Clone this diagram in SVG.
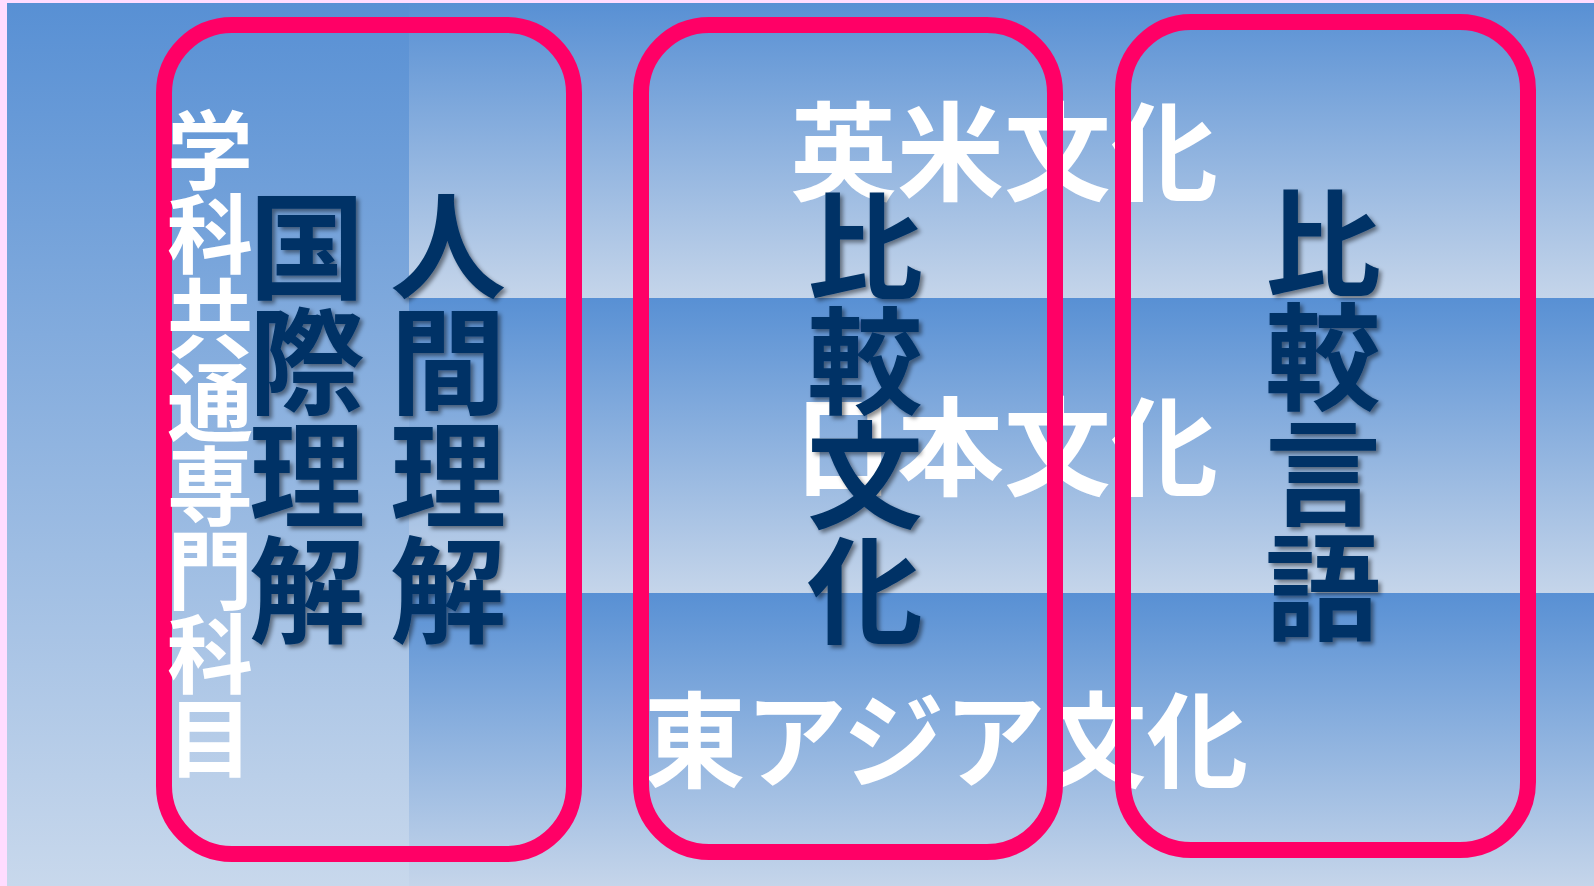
<svg xmlns="http://www.w3.org/2000/svg" width="1594" height="886" viewBox="0 0 1594 886">
<defs>
<linearGradient id="gCol" x1="0" y1="0" x2="0" y2="1">
<stop offset="0" stop-color="#5890D4"/>
<stop offset="1" stop-color="#C8D8EC"/>
</linearGradient>
<linearGradient id="gBand" x1="0" y1="0" x2="0" y2="1">
<stop offset="0" stop-color="#5890D4"/>
<stop offset="1" stop-color="#C5D5EA"/>
</linearGradient>
<filter id="sh" x="-20%" y="-20%" width="140%" height="140%">
<feDropShadow dx="3" dy="3" stdDeviation="2" flood-color="#000" flood-opacity="0.45"/>
</filter>
</defs>
<style>
.box{fill:none;stroke:#FF0066;stroke-width:16}
.navy{font-family:"Noto Sans CJK JP","Noto Sans CJK SC",sans-serif;font-weight:700;fill:#003366;text-anchor:middle;filter:url(#sh)}
.wv{font-family:"Noto Sans CJK JP","Noto Sans CJK SC",sans-serif;font-weight:700;fill:#FFFFFF;text-anchor:middle}
.wh{font-family:"Noto Sans CJK JP","Noto Sans CJK SC",sans-serif;font-weight:700;fill:#FFFFFF}
</style>
<g id="background">
<rect x="0" y="0" width="1594" height="886" fill="#FFDCFF"/>
<rect x="7" y="3" width="402" height="883" fill="url(#gCol)"/>
<rect x="409" y="3" width="1185" height="295" fill="url(#gBand)"/>
<rect x="409" y="298" width="1185" height="295" fill="url(#gBand)"/>
<rect x="409" y="593" width="1185" height="293" fill="url(#gBand)"/>
</g>
<g id="white-labels">
<text class="wh" x="790" y="192" font-size="107" textLength="428" lengthAdjust="spacing">英米文化</text>
<text class="wh" x="790" y="487" font-size="107" textLength="428" lengthAdjust="spacing">日本文化</text>
<text class="wh" x="644" y="780" font-size="104" textLength="604" lengthAdjust="spacingAndGlyphs">東アジア文化</text>
</g>
<g id="connectors"/>
<g id="node-kokusai">
<rect class="box" x="164" y="25" width="410" height="829" rx="68" ry="68"/>
<text class="wv" font-size="86"><tspan x="210" y="183">学</tspan><tspan x="210" y="267">科</tspan><tspan x="210" y="351">共</tspan><tspan x="210" y="435">通</tspan><tspan x="210" y="519">専</tspan><tspan x="210" y="603">門</tspan><tspan x="210" y="687">科</tspan><tspan x="210" y="771">目</tspan></text>
<text class="navy" font-size="116"><tspan x="307" y="290">国</tspan><tspan x="307" y="405">際</tspan><tspan x="307" y="519">理</tspan><tspan x="307" y="634">解</tspan></text>
<text class="navy" font-size="116"><tspan x="448" y="290">人</tspan><tspan x="448" y="405">間</tspan><tspan x="448" y="519">理</tspan><tspan x="448" y="634">解</tspan></text>
</g>
<g id="node-hikaku-bunka">
<rect class="box" x="641" y="25" width="414" height="827" rx="68" ry="68"/>
<text class="navy" font-size="116"><tspan x="865" y="290">比</tspan><tspan x="865" y="405">較</tspan><tspan x="865" y="519">文</tspan><tspan x="865" y="634">化</tspan></text>
</g>
<g id="node-hikaku-gengo">
<rect class="box" x="1123" y="22" width="405" height="828" rx="68" ry="68"/>
<text class="navy" font-size="116"><tspan x="1323" y="287">比</tspan><tspan x="1323" y="401">較</tspan><tspan x="1323" y="516">言</tspan><tspan x="1323" y="631">語</tspan></text>
</g>
</svg>
